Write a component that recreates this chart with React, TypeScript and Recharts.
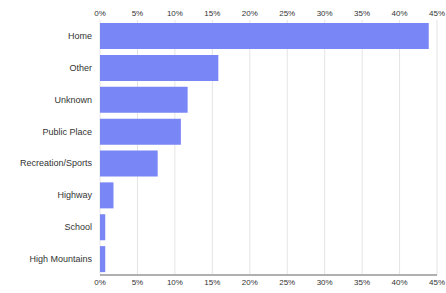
import React from 'react'
import { BarChart, Bar, XAxis, YAxis, CartesianGrid } from 'recharts'

const categories = [
  'Home',
  'Other',
  'Unknown',
  'Public Place',
  'Recreation/Sports',
  'Highway',
  'School',
  'High Mountains'
]
const shares = [43.9, 15.8, 11.7, 10.8, 7.7, 1.8, 0.7, 0.7]
const xTicks = [0, 5, 10, 15, 20, 25, 30, 35, 40, 45]

const data = categories.map((name, i) => ({ name, value: shares[i] }))

const font = 'Liberation Sans, Arial, sans-serif'
const xTickStyle = { fontSize: 8, fill: '#333', fontFamily: font }

// plain text tick so long labels don't wrap
const CategoryTick = (props: any) => {
  const { x, y, payload } = props
  return (
    <text x={x} y={y} dy={3} textAnchor="end" fontSize={9} fill="#333" fontFamily={font}>
      {payload.value}
    </text>
  )
}

export default function App() {
  return (
    <div style={{ position: 'absolute', left: 0, top: 0, background: '#fff' }}>
      <BarChart
        width={446}
        height={293}
        data={data}
        layout="vertical"
        margin={{ top: 0, right: 9, bottom: 0, left: 0 }}
        barCategoryGap={3}
      >
        <CartesianGrid horizontal={false} stroke="#e4e4e4" xAxisId="bottom" />
        <XAxis
          xAxisId="top"
          orientation="top"
          type="number"
          domain={[0, 45]}
          allowDataOverflow
          ticks={xTicks}
          tickFormatter={(v) => `${v}%`}
          tick={xTickStyle}
          tickLine={false}
          tickSize={0}
          tickMargin={4}
          axisLine={false}
          height={20}
          interval={0}
        />
        <XAxis
          xAxisId="bottom"
          orientation="bottom"
          type="number"
          domain={[0, 45]}
          allowDataOverflow
          ticks={xTicks}
          tickFormatter={(v) => `${v}%`}
          tick={xTickStyle}
          tickLine={false}
          tickSize={0}
          tickMargin={4}
          axisLine={{ stroke: '#b0b0b0', strokeWidth: 2 }}
          height={18}
          interval={0}
        />
        <YAxis
          type="category"
          dataKey="name"
          width={100}
          tick={<CategoryTick />}
          tickLine={false}
          tickSize={0}
          tickMargin={8}
          axisLine={false}
          interval={0}
        />
        <Bar xAxisId="bottom" dataKey="value" fill="#7986f5" isAnimationActive={false} />
      </BarChart>
    </div>
  )
}
